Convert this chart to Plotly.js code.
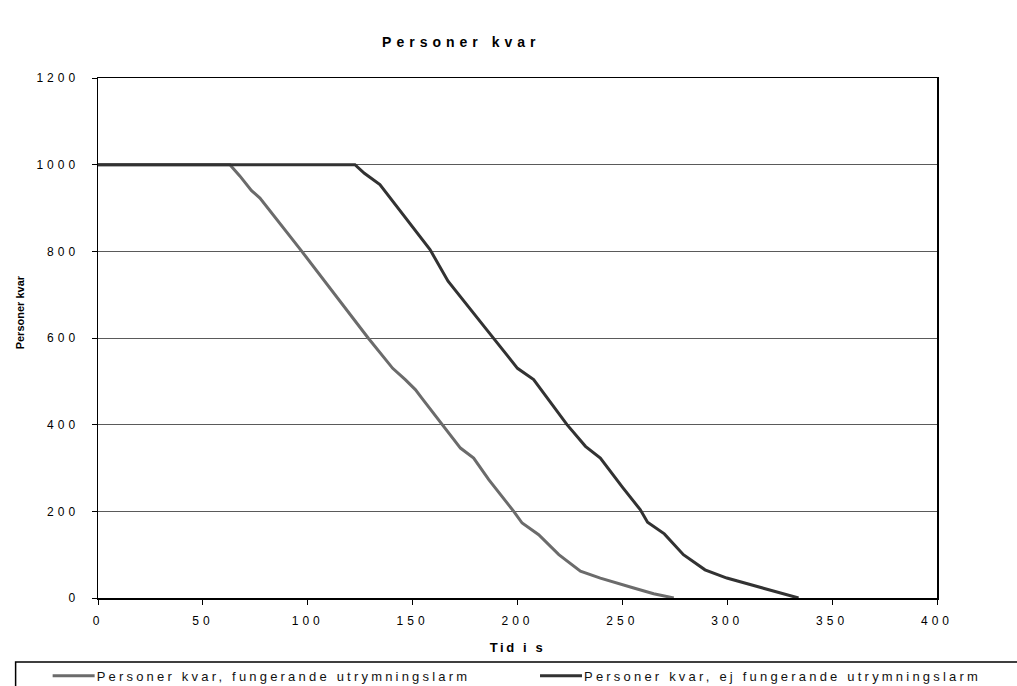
<!DOCTYPE html>
<html>
<head>
<meta charset="utf-8">
<script src="https://cdn.plot.ly/plotly-3.0.1.min.js"></script>
<style>
html,body{margin:0;padding:0;background:#fff;}
#chart{width:1017px;height:686px;}
#chart .xtick text, #chart .ytick text{letter-spacing:4px;}
#chart .gtitle{letter-spacing:5px;}
#chart .xtitle{letter-spacing:2.6px;}
</style>
</head>
<body>
<div id="chart"></div>
<script>
// Series 1: Personer kvar, fungerande utrymningslarm
var tFungerande = [0, 62.9, 67.6, 73.2, 77.2, 97, 128.8, 140.5, 146.5, 151.3, 154.3, 164, 172.8, 179.1, 186.3, 198.2, 202.2, 210.1, 219.7, 230, 239.5, 255.4, 264.9, 274.5];
var yFungerande = [1000, 1000, 974, 940, 923, 801, 600, 530, 504, 481, 462, 400, 346, 323, 273, 200, 173, 146, 100, 62, 46, 23, 10, 0];
// Series 2: Personer kvar, ej fungerande utrymningslarm
var tEj = [0, 122.5, 127, 134.4, 158.3, 166.9, 185, 200, 207.7, 215, 223.6, 232.4, 239.5, 250, 258.5, 262, 270, 279.1, 289.4, 299.8, 310.9, 322, 334];
var yEj = [1000, 1000, 980, 954, 804, 731, 621, 530, 504, 456, 400, 350, 323, 256, 204, 175, 148, 100, 65, 46, 31, 15, 0];

var seriesNames = ['Personer kvar, fungerande utrymningslarm', 'Personer kvar, ej fungerande utrymningslarm'];
var xTicks = [0, 50, 100, 150, 200, 250, 300, 350, 400];
var yTicks = [0, 200, 400, 600, 800, 1000, 1200];

var traces = [
  {x: tFungerande, y: yFungerande, name: seriesNames[0], type: 'scatter', mode: 'lines',
   legend: 'legend', line: {color: '#6b6b6b', width: 3}},
  {x: tEj, y: yEj, name: seriesNames[1], type: 'scatter', mode: 'lines',
   legend: 'legend2', line: {color: '#323232', width: 3}}
];

var F = '"Liberation Sans", Arial, sans-serif';
var legendFont = {family: F, size: 13, color: '#111'};
var layout = {
  width: 1017, height: 686,
  margin: {l: 98, r: 80, t: 78, b: 88, autoexpand: false},
  paper_bgcolor: '#ffffff', plot_bgcolor: '#ffffff',
  font: {family: F, size: 12, color: '#000'},
  title: {text: '<b>Personer kvar</b>', font: {family: F, size: 14, color: '#000'},
          x: 0.433, xref: 'paper', xanchor: 'center', y: 0.939, yanchor: 'middle'},
  xaxis: {range: [0, 400], tickvals: xTicks, ticktext: xTicks.map(String),
          showgrid: false, zeroline: false, showline: true, linecolor: '#000', linewidth: 1.5,
          mirror: true, ticks: 'outside', ticklen: 5, tickcolor: '#000', tickwidth: 1,
          ticklabelstandoff: 6,
          tickfont: {family: F, size: 12, color: '#000'},
          title: {text: '<b>Tid i s</b>', font: {family: F, size: 13, color: '#000'}, standoff: 16}},
  yaxis: {range: [0, 1200], tickvals: yTicks, ticktext: yTicks.map(String),
          showgrid: true, gridcolor: '#5a5a5a', gridwidth: 1, zeroline: false,
          showline: true, linecolor: '#000', linewidth: 1.5, mirror: true,
          ticks: 'outside', ticklen: 5, tickcolor: '#000', tickwidth: 1,
          ticklabelstandoff: 10,
          tickfont: {family: F, size: 12, color: '#000'}},
  showlegend: true,
  legend: {orientation: 'h', x: -0.0493, xanchor: 'left', y: -0.121, yanchor: 'top',
           bgcolor: 'rgba(0,0,0,0)', borderwidth: 0, font: legendFont},
  legend2: {orientation: 'h', x: 0.5316, xanchor: 'left', y: -0.121, yanchor: 'top',
           bgcolor: 'rgba(0,0,0,0)', borderwidth: 0, font: legendFont},
  shapes: [
    {type: 'rect', xref: 'paper', yref: 'paper',
     x0: -0.0982, x1: 1.0994, y0: -0.1956, y1: -0.1231,
     line: {color: '#000', width: 1.5}, fillcolor: 'rgba(0,0,0,0)'}
  ],
  annotations: [
    {text: '<b>Personer kvar</b>', xref: 'paper', yref: 'paper',
     x: (20 - 98.3) / 838.4, y: (598.3 - 313) / 520, xanchor: 'center', yanchor: 'middle',
     textangle: -90, showarrow: false, font: {family: F, size: 11, color: '#000'}}
  ]
};

function spaceLegends(gd) {
  gd.querySelectorAll('text').forEach(function (el) {
    if (seriesNames.indexOf(el.textContent) >= 0) { el.style.letterSpacing = '3.2px'; }
  });
  gd.querySelectorAll('[clip-path]').forEach(function (el) {
    if ((el.getAttribute('clip-path') || '').indexOf('legend') >= 0) { el.removeAttribute('clip-path'); }
  });
  // longer Excel-style legend line samples
  gd.querySelectorAll('.legendlines path').forEach(function (p) {
    p.setAttribute('d', 'M-4,0h42');
  });
}

Plotly.newPlot('chart', traces, layout, {displayModeBar: false, staticPlot: true}).then(function (gd) {
  spaceLegends(gd);
  setTimeout(function () { spaceLegends(gd); }, 50);
});
</script>
</body>
</html>
